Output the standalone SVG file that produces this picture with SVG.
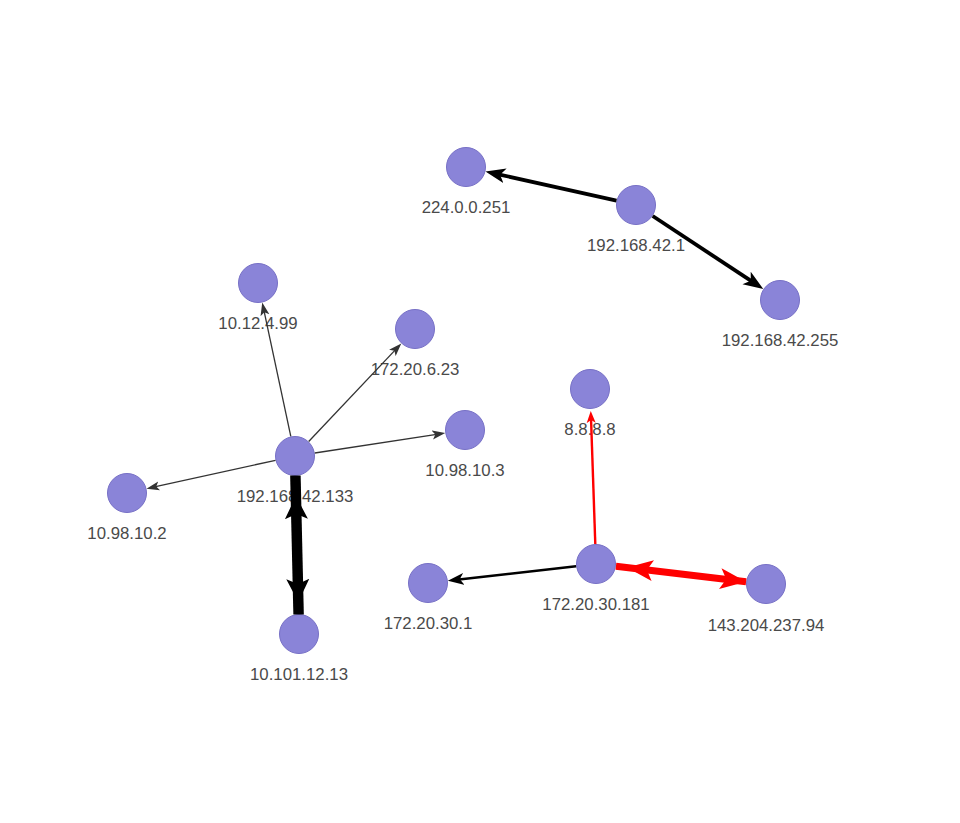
<svg xmlns="http://www.w3.org/2000/svg" width="960" height="823" viewBox="0 0 960 823">
<style>
.node circle{fill:#8a84d8;stroke:#7770c6;stroke-width:1}
.node text{font-family:"Liberation Sans",Arial,sans-serif;font-size:16.8px;fill:#4a4a4a;text-anchor:middle}
.edge{fill:none;stroke-linecap:butt}
.thin{stroke:#333;stroke-width:1.3;marker-end:url(#aS)}
.med{stroke:#000;stroke-width:3.8;marker-end:url(#aM)}
.med2{stroke:#000;stroke-width:2.5;marker-end:url(#aM2)}
.redthin{stroke:#f00;stroke-width:2.4;marker-end:url(#aSr)}
.thickblack{stroke:#000;stroke-width:10.5}
.thickred{stroke:#f00;stroke-width:7}
.arrowsonly{stroke:none}
</style>
<defs>
<marker id="aS" markerUnits="userSpaceOnUse" viewBox="0 -5 14 10" markerWidth="14" markerHeight="10" refX="6" refY="0" orient="auto"><path d="M13,0 L0,4.5 L3,0 L0,-4.5 Z" fill="#333"/></marker>
<marker id="aSr" markerUnits="userSpaceOnUse" viewBox="0 -5 13 10" markerWidth="13" markerHeight="10" refX="5" refY="0" orient="auto"><path d="M12,0 L0,4.5 L3,0 L0,-4.5 Z" fill="#f00"/></marker>
<marker id="aM" markerUnits="userSpaceOnUse" viewBox="0 -8 21 16" markerWidth="21" markerHeight="16" refX="9" refY="0" orient="auto"><path d="M20,0 L0,7.5 L5,0 L0,-7.5 Z" fill="#000"/></marker>
<marker id="aM2" markerUnits="userSpaceOnUse" viewBox="0 -7 17 14" markerWidth="17" markerHeight="14" refX="7" refY="0" orient="auto"><path d="M16,0 L0,6 L4,0 L0,-6 Z" fill="#000"/></marker>
<marker id="aL" markerUnits="userSpaceOnUse" viewBox="0 -12 24 24" markerWidth="24" markerHeight="24" refX="23" refY="0" orient="auto-start-reverse"><path d="M23,0 L0,11.5 L5,0 L0,-11.5 Z" fill="#000"/></marker>
<marker id="aLr" markerUnits="userSpaceOnUse" viewBox="0 -11 27 22" markerWidth="27" markerHeight="22" refX="26" refY="0" orient="auto-start-reverse"><path d="M26,0 L0,10.5 L6,0 L0,-10.5 Z" fill="#f00"/></marker>
</defs>
<rect width="960" height="823" fill="#fff"/>
<g id="nodes">
<g id="n-224.0.0.251" class="node"><circle cx="466" cy="167" r="19.5"/><text x="466" y="213">224.0.0.251</text></g>
<g id="n-192.168.42.1" class="node"><circle cx="636" cy="205" r="19.5"/><text x="636" y="251">192.168.42.1</text></g>
<g id="n-192.168.42.255" class="node"><circle cx="780" cy="300" r="19.5"/><text x="780" y="346">192.168.42.255</text></g>
<g id="n-10.12.4.99" class="node"><circle cx="258" cy="283" r="19.5"/><text x="258" y="329">10.12.4.99</text></g>
<g id="n-172.20.6.23" class="node"><circle cx="415" cy="329" r="19.5"/><text x="415" y="375">172.20.6.23</text></g>
<g id="n-10.98.10.3" class="node"><circle cx="465" cy="430" r="19.5"/><text x="465" y="476">10.98.10.3</text></g>
<g id="n-192.168.42.133" class="node"><circle cx="295" cy="456" r="19.5"/><text x="295" y="502">192.168.42.133</text></g>
<g id="n-10.98.10.2" class="node"><circle cx="127" cy="493" r="19.5"/><text x="127" y="539">10.98.10.2</text></g>
<g id="n-10.101.12.13" class="node"><circle cx="299" cy="634" r="19.5"/><text x="299" y="680">10.101.12.13</text></g>
<g id="n-8.8.8.8" class="node"><circle cx="590" cy="389" r="19.5"/><text x="590" y="435">8.8.8.8</text></g>
<g id="n-172.20.30.181" class="node"><circle cx="596" cy="564" r="19.5"/><text x="596" y="610">172.20.30.181</text></g>
<g id="n-172.20.30.1" class="node"><circle cx="428" cy="583" r="19.5"/><text x="428" y="629">172.20.30.1</text></g>
<g id="n-143.204.237.94" class="node"><circle cx="766" cy="584" r="19.5"/><text x="766" y="631">143.204.237.94</text></g>
</g>
<g id="connectors">
<path class="edge med" d="M616.5,200.6 L496.2,173.8"/>
<path class="edge med" d="M652.7,216.0 L754.1,282.9"/>
<path class="edge thin" d="M290.8,436.4 L263.7,309.4"/>
<path class="edge thin" d="M308.7,441.5 L396.5,348.6"/>
<path class="edge thin" d="M314.8,453.0 L438.3,434.1"/>
<path class="edge thin" d="M275.5,460.3 L153.3,487.2"/>
<path class="edge thickblack" d="M295.4,475.5 L298.6,614.5"/>
<path class="edge arrowsonly" d="M295.9,496 L298.3,602" marker-start="url(#aL)" marker-end="url(#aL)"/>
<path class="edge redthin" d="M595.3,544.0 L591.0,418.0"/>
<path class="edge med2" d="M576.1,566.2 L456.8,579.7"/>
<path class="edge thickred" d="M615.9,566.3 L746.1,581.7"/>
<path class="edge arrowsonly" d="M627,567.6 L746.1,581.7" marker-start="url(#aLr)" marker-end="url(#aLr)"/>
</g>
</svg>
